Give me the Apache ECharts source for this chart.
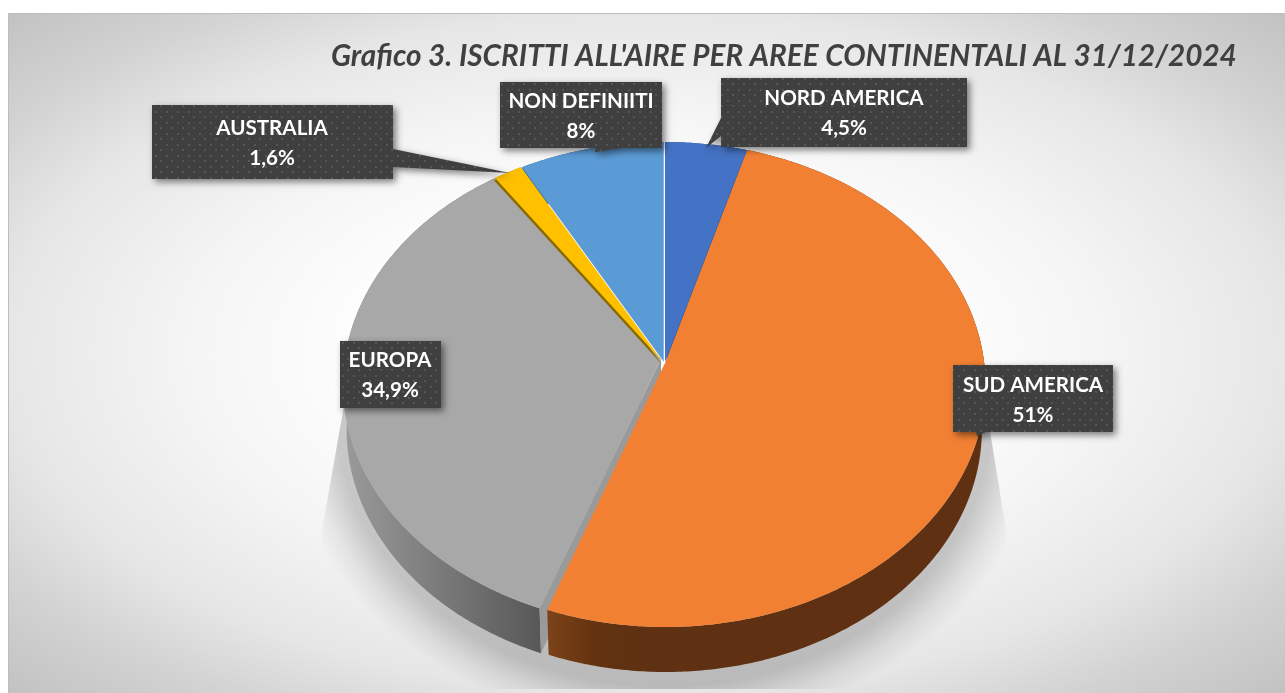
<!DOCTYPE html>
<html><head><meta charset="utf-8">
<style>html,body{margin:0;padding:0;background:#fff}#c{width:1285px;height:693px}</style>
<script src="https://cdn.jsdelivr.net/npm/echarts@6/dist/echarts.min.js"></script>
</head><body><div id="c"></div>
<script>
const categories = ['NORD AMERICA','SUD AMERICA','EUROPA','AUSTRALIA','NON DEFINIITI'];
const shares = [4.5, 51, 34.9, 1.6, 8];
const shareLabels = ['4,5%','51%','34,9%','1,6%','8%'];
const titleText = "Grafico 3. ISCRITTI ALL'AIRE PER AREE CONTINENTALI AL 31/12/2024";

const faceColors = ['#4472C4','#F28033','#A8A8A8','#FFC000','#5B9BD5'];
const edgeColors = ['#2F5597','#7a4018','#999999','#8a6a00','#3f6f9c'];
const offsets = [[1,0],[1.5,0],[-1,0],[-1,0],[0,0]];
const apexShifts = [[0,0],[0,0],[-2,-3.3],[0,0],[0,0]];
const startGaps = [0,0,0.016,0,0];
const boxes = [
  [[721,78],[967,78],[967,147],[721,147],[721,136],[706,148],[721,118]],
  [[953,365],[1113,365],[1113,432],[986,432],[977,436],[976,432],[953,432]],
  [[340,341],[441,341],[441,408],[340,408]],
  [[152,105],[393,105],[393,149],[510,173],[393,167],[393,179],[152,179]],
  [[500,82],[662,82],[662,148],[623,148],[595,152],[595,148],[500,148]]
];
const textCenters = [[844,113],[1033,400],[390,375],[272,143],[581,116]];

// perspective projection of the pie disc
const CX=664, CY=362, K=0.0928, AY=240.4, BX=318.6, DEPTH=45, BX2=315;
const total = shares.reduce((a,b)=>a+b,0);
const cum = []; { let s=0; shares.forEach((v,i)=>{cum.push([s/total*2*Math.PI+startGaps[i],(s+v)/total*2*Math.PI]); s+=v;}); }
function topPt(t,o){const u=Math.sin(t),v=-Math.cos(t),d=1-K*v;return [CX+o[0]+BX*u/d,CY+o[1]+AY*v/d];}
function lowPt(t,o){const u=Math.sin(t),v=-Math.cos(t),d=1-K*v;return [CX+o[0]+BX2*u/d,CY+o[1]+DEPTH+AY*v/d];}
function arc(fn,a,b,o){const n=Math.max(2,Math.ceil((b-a)/0.01)),p=[];for(let i=0;i<=n;i++)p.push(fn(a+(b-a)*i/n,o));return p;}
function lin(x,y,x2,y2,stops){return {type:'linear',global:true,x,y,x2,y2,colorStops:stops.map(s=>({offset:s[0],color:s[1]}))};}
function apexOf(i){const o=offsets[i],s=apexShifts[i];return [CX+o[0]+s[0],CY+o[1]+s[1]];}

const rimFills = [
  '#2F5597',
  lin(549,0,640,0,[[0,'#7c4219'],[0.5,'#63330f'],[1,'#5f3112']]),
  lin(345,0,545,0,[[0,'#9a9a9a'],[0.45,'#7c7c7c'],[1,'#565656']]),
  '#a88000','#3f6f9c'
];

function makeDots(){
  const c=document.createElement('canvas');c.width=11;c.height=11;const g=c.getContext('2d');
  g.fillStyle='#3f3f3f';g.fillRect(0,0,11,11);
  g.fillStyle='#565656';g.fillRect(1,1,2,2);g.fillRect(6,6,2,2);
  g.fillStyle='#494949';g.fillRect(6,1,1,1);g.fillRect(1,6,1,1);
  return c;
}
const dots=makeDots();

const drawOrder=[2,3,4,0,1];

function renderRim(params){
  const i=drawOrder[params.dataIndex],[a,b]=cum[i],o=offsets[i],kids=[];
  const t=arc(topPt,a,b,o),l=arc(lowPt,a,b,o).reverse();
  kids.push({type:'polygon',shape:{points:t.concat(l)},style:{fill:rimFills[i]}});
  if(i===2){
    const p=topPt(a,o),q=lowPt(a,o),c=apexOf(i);
    kids.push({type:'polygon',shape:{points:[c,p,q,[c[0],c[1]+DEPTH]]},style:{fill:'#9a9a9a'}});
  }
  return {type:'group',children:kids};
}
function renderFace(params){
  const i=drawOrder[params.dataIndex],[a,b]=cum[i],o=offsets[i];
  const c=apexOf(i);
  const pts=[c].concat(arc(topPt,a,b,o));
  const kids=[];
  const e=[pts.map(p=>[p[0]-1,p[1]+2.5]),pts.map(p=>[p[0]+1.5,p[1]+1])][i===0?1:0];
  if(i===3||i===0) kids.push({type:'polygon',shape:{points:e},style:{fill:edgeColors[i]}});
  kids.push({type:'polygon',shape:{points:pts},style:{fill:faceColors[i]}});
  if(i===4){const q=topPt(b,o);kids.push({type:'line',shape:{x1:c[0],y1:c[1],x2:q[0],y2:q[1]},style:{stroke:'rgba(255,255,255,.55)',lineWidth:1}});}
  return {type:'group',children:kids};
}
function renderBox(params){
  const i=params.dataIndex,tc=textCenters[i];
  return {type:'group',children:[
    {type:'polygon',shape:{points:boxes[i]},style:{fill:{image:dots,repeat:'repeat'},shadowBlur:7,shadowOffsetX:3,shadowOffsetY:3,shadowColor:'rgba(0,0,0,.5)'}},
    {type:'text',x:tc[0],y:tc[1],style:{text:categories[i]+'\n'+shareLabels[i],fill:'#fff',align:'center',verticalAlign:'middle',lineHeight:30,font:'700 20.6px Lato, sans-serif'}}
  ]};
}

const chart=echarts.init(document.getElementById('c'),null,{renderer:'canvas'});
chart.setOption({
  animation:false,
  title:{text:titleText,left:331,top:41,padding:0,textStyle:{fontFamily:'Lato',fontSize:29.7,fontWeight:700,fontStyle:'italic',color:'#404040'}},
  graphic:[
    {type:'rect',z:-10,x:8,y:13,scaleY:0.53125,shape:{x:0,y:0,width:1277,height:1280},
     style:{fill:{type:'radial',x:0.5,y:0.5,r:0.707,colorStops:[{offset:0,color:'#ffffff'},{offset:0.28,color:'#ffffff'},{offset:0.5,color:'#f5f5f5'},{offset:0.71,color:'#e6e6e6'},{offset:0.85,color:'#d2d2d2'},{offset:1,color:'#c2c2c2'}]}}},
    {type:'polygon',z:-9,x:664,y:410,scaleY:0.84,
     shape:{points:[[-319,-12],[-342,143],[-342,332],[342,332],[342,143],[321,-12]]},
     style:{fill:{type:'radial',global:true,x:0,y:0,r:380,colorStops:[{offset:0,color:'rgba(0,0,0,.2)'},{offset:0.865,color:'rgba(0,0,0,.2)'},{offset:0.94,color:'rgba(0,0,0,.07)'},{offset:1,color:'rgba(0,0,0,0)'}]}}},
    {type:'polyline',z:-8,shape:{points:[[8.5,693],[8.5,13.5],[1285,13.5]]},style:{stroke:'#bdbdbd',lineWidth:1,fill:null}}
  ],
  series:[
    {type:'custom',coordinateSystem:'none',z:2,silent:true,data:shares,renderItem:renderRim},
    {type:'custom',coordinateSystem:'none',z:3,silent:true,data:shares,renderItem:renderFace},
    {type:'custom',coordinateSystem:'none',z:4,silent:true,data:shares,renderItem:renderBox}
  ]
});
</script></body></html>
